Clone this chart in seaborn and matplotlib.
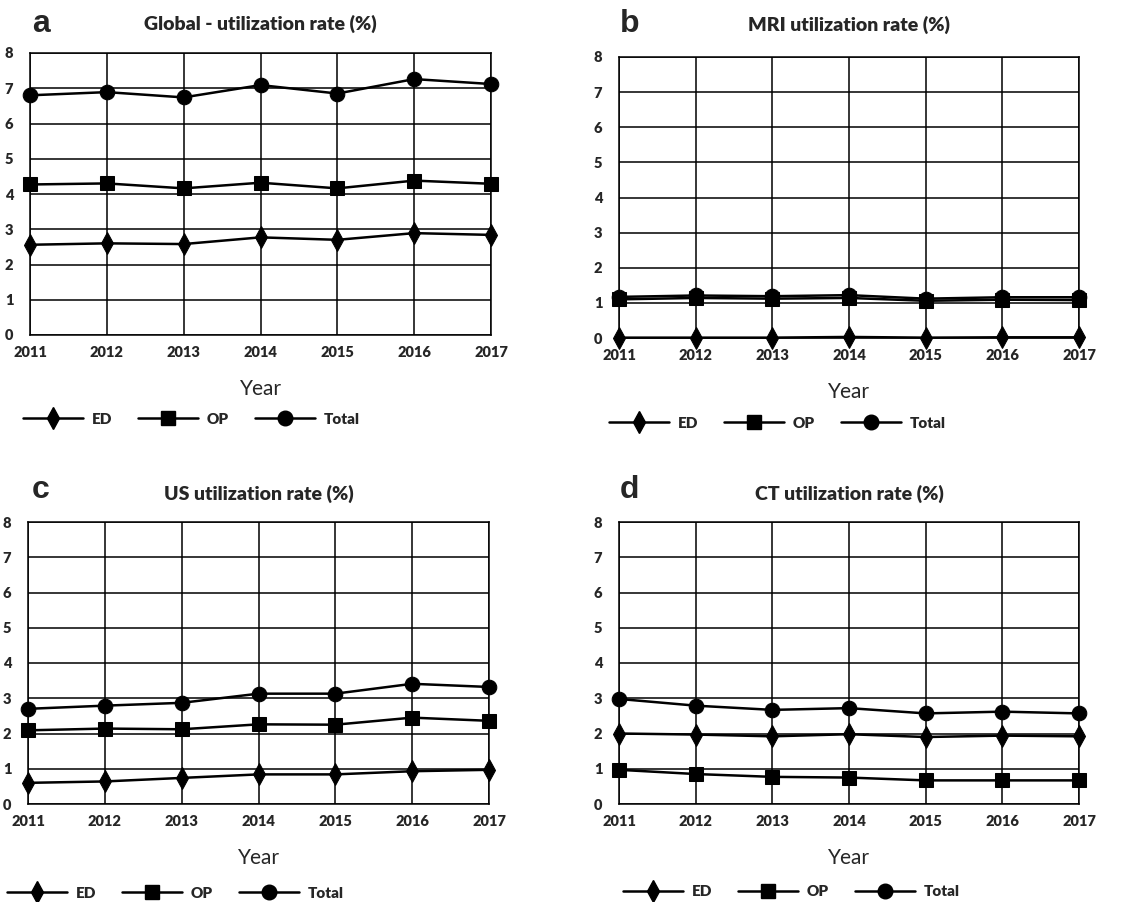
#!/usr/bin/env python3
"""Utilization rates (%) 2011-2017 by modality: ED, OP and Total."""

import matplotlib.pyplot as plt
import pandas as pd
import seaborn as sns
from matplotlib.lines import Line2D

YEARS = [2011, 2012, 2013, 2014, 2015, 2016, 2017]
SERIES = ["ED", "OP", "Total"]

GLOBAL_ED = [2.56, 2.60, 2.58, 2.77, 2.70, 2.89, 2.84]
GLOBAL_OP = [4.27, 4.30, 4.16, 4.32, 4.16, 4.38, 4.29]
GLOBAL_TOTAL = [6.80, 6.89, 6.74, 7.09, 6.85, 7.26, 7.12]

MRI_ED = [0.01, 0.01, 0.01, 0.03, 0.01, 0.02, 0.02]
MRI_OP = [1.10, 1.14, 1.12, 1.14, 1.06, 1.09, 1.08]
MRI_TOTAL = [1.17, 1.21, 1.19, 1.22, 1.12, 1.16, 1.16]

US_ED = [0.60, 0.64, 0.74, 0.84, 0.84, 0.93, 0.97]
US_OP = [2.09, 2.14, 2.12, 2.26, 2.25, 2.45, 2.36]
US_TOTAL = [2.70, 2.79, 2.87, 3.13, 3.13, 3.41, 3.32]

CT_ED = [2.00, 1.97, 1.92, 1.98, 1.90, 1.94, 1.92]
CT_OP = [0.97, 0.85, 0.77, 0.75, 0.67, 0.67, 0.67]
CT_TOTAL = [2.98, 2.79, 2.67, 2.72, 2.57, 2.62, 2.57]

PANELS = [
    ("a", "Global - utilization rate (%)", GLOBAL_ED, GLOBAL_OP, GLOBAL_TOTAL),
    ("b", "MRI utilization rate (%)", MRI_ED, MRI_OP, MRI_TOTAL),
    ("c", "US utilization rate (%)", US_ED, US_OP, US_TOTAL),
    ("d", "CT utilization rate (%)", CT_ED, CT_OP, CT_TOTAL),
]

MARKERS = {"ED": "d", "OP": "s", "Total": "o"}
MSIZE = {"ED": 11, "OP": 9.5, "Total": 10.5}
LW = 1.8

W, H = 1142, 902
# axes boxes in pixels: left, top, right, bottom
AX_BOX = [(30, 53, 491, 335), (619, 57, 1079, 338),
          (28, 522, 489, 804), (619, 522, 1079, 804)]
LETTER_POS = [(32, 24), (620, 24), (32, 490), (620, 490)]
TITLE_PAD = [17, 19, 16, 16]
LEGEND_POS = [(23, 419), (609, 423), (7, 893), (623, 892)]

FONT = "Lato"


def to_frame(ed, op, total):
    rows = []
    for name, vals in zip(SERIES, [ed, op, total]):
        for y, v in zip(YEARS, vals):
            rows.append({"Year": y, "rate": v, "series": name})
    return pd.DataFrame(rows)


def main():
    sns.set_theme(style="white")
    plt.rcParams["font.family"] = [FONT, "DejaVu Sans"]
    fig = plt.figure(figsize=(W / 100, H / 100), dpi=100)

    for (letter, title, ed, op, total), box, lpos, tpad, gpos in zip(
        PANELS, AX_BOX, LETTER_POS, TITLE_PAD, LEGEND_POS
    ):
        l, t, r, b = box
        ax = fig.add_axes([l / W, 1 - b / H, (r - l) / W, (b - t) / H])
        df = to_frame(ed, op, total)
        for name in SERIES:
            sns.lineplot(
                data=df[df["series"] == name], x="Year", y="rate",
                color="black", marker=MARKERS[name], markersize=MSIZE[name],
                markeredgecolor="black", linewidth=LW, ax=ax, legend=False,
                clip_on=False, zorder=3,
            )
        ax.set_xlim(2011, 2017)
        ax.set_ylim(0, 8)
        ax.set_xticks(YEARS)
        ax.set_yticks(range(0, 9))
        ax.grid(True, color="black", linewidth=1.1)
        for s in ax.spines.values():
            s.set_color("black")
            s.set_linewidth(1.1)
        ax.tick_params(axis="both", length=0, labelsize=10.5, pad=8)
        ax.tick_params(axis="y", pad=12)
        for lab in ax.get_xticklabels() + ax.get_yticklabels():
            lab.set_fontweight("heavy")
        ax.set_xlabel("Year", fontsize=15, labelpad=14)
        ax.set_ylabel("")
        ax.set_title(title, fontsize=14, fontweight="heavy", pad=tpad)

        fig.text(lpos[0] / W, 1 - lpos[1] / H, letter, fontsize=23,
                 fontweight="bold", family="Liberation Sans",
                 ha="left", va="center")

        handles = [
            Line2D([], [], color="black", linewidth=LW, marker=MARKERS[n],
                   markersize=MSIZE[n], markeredgecolor="black")
            for n in SERIES
        ]
        fig.legend(handles, SERIES, loc="center left",
                   bbox_to_anchor=(gpos[0] / W, 1 - gpos[1] / H),
                   ncol=3, frameon=False, handlelength=3.9,
                   handletextpad=0.6, columnspacing=1.7,
                   borderpad=0, borderaxespad=0,
                   prop={"weight": "heavy", "size": 11})

    fig.savefig("out.png", dpi=100)


if __name__ == "__main__":
    main()
